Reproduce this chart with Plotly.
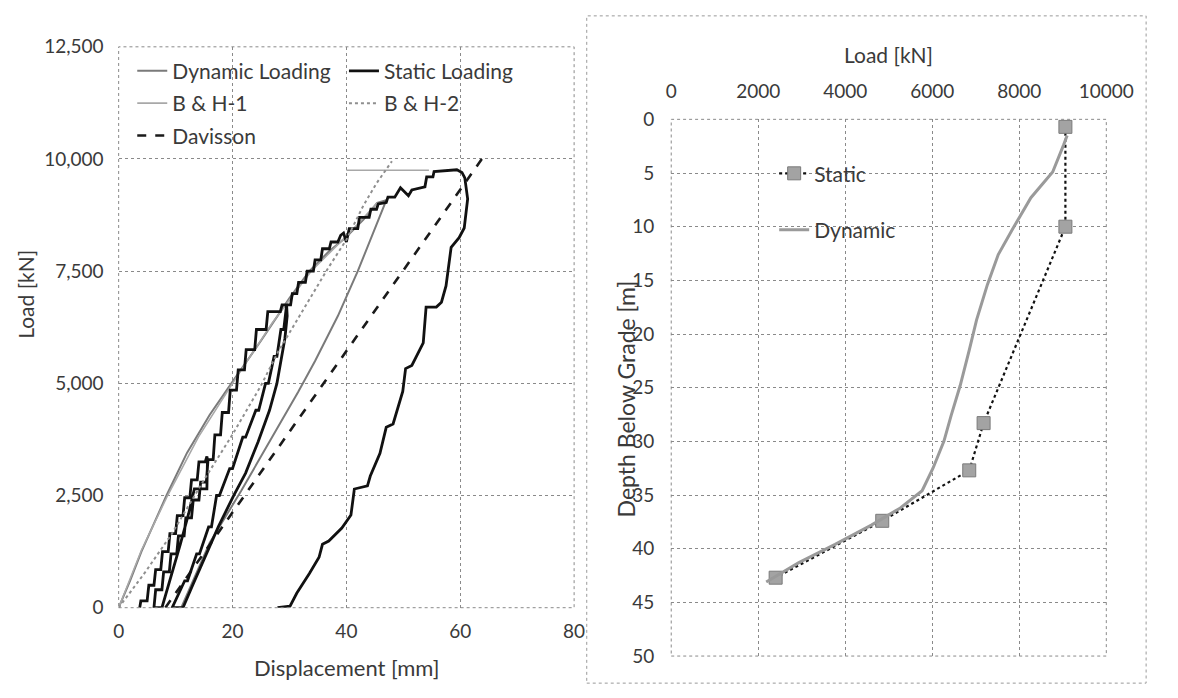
import plotly.graph_objects as go

# ---------------- Left chart: load-displacement ----------------
dyn_x = [0, 2, 4, 6.3, 8.4, 12, 16, 19.8, 25, 30, 33.5, 37, 39.7, 43, 45.4, 47,
         44.5, 42, 38.5, 34.5, 31.5, 27, 21.5, 16, 11]
dyn_y = [0, 600, 1250, 1920, 2500, 3450, 4300, 5000, 5950, 6900, 7500, 7950, 8230, 8650, 9020, 9080,
         8300, 7500, 6500, 5500, 4800, 3800, 2600, 1450, 0]

static_x = [3.7, 3.9, 5, 5.3, 6.2, 6.5, 7.4, 7.7, 8.7, 9, 10, 10.3, 11.3, 11.6, 12.5, 12.8, 13.8, 14.1, 15.2, 15.5,
            15.6, 15.5, 13.3, 12.3, 10.8, 9.2, 7.6, 6.2,
            6.5, 7.6, 7.9, 8.9, 9.2, 10.2, 10.5, 11.5, 11.8, 12.8, 13.1, 14.1, 14.4, 15.4, 15.7, 16.6, 16.9, 17.9,
            18.2, 19.3, 19.6, 20.7, 21, 22.1, 22.4, 23.9, 24.2, 25.9, 26.2, 28.4, 28.7, 29.5,
            29.6, 29.2, 28.4, 27.8, 26.5, 24.5, 22.3, 20.2, 17.5, 15, 13, 11.3, 9.4,
            11.6, 12.1, 13.7, 14.2, 15.8, 16.3, 17.2, 17.7, 19.5, 20, 21.8, 22.3, 24.1, 24.6, 25.8, 26.3, 27.3,
            27.8, 28.5, 29, 29.5,
            30.2, 30.5, 31.3, 31.6, 32.8, 33.1, 34.2, 34.5, 35.5, 35.8, 37, 37.3, 38.5, 39, 39.5, 40, 40.5, 42,
            42.3, 44, 44.3, 45.3, 45.6, 47, 47.3, 48.5, 49.5, 50.9, 51.5, 53.8, 54.1, 55.2, 55.4, 59.4, 60.3,
            60.8,
            61.3, 60.7, 59.8, 58.4, 57.8, 57.5, 56.7, 55.8, 54, 53.5, 51.5, 50.4, 49.9, 48.2, 47, 45.9, 44.2,
            43.7, 41.4, 40.8, 39.2, 36.9, 35.8, 35.2, 33.5, 31.3, 30.1, 27.9]
static_y = [0, 150, 150, 500, 500, 850, 850, 1250, 1250, 1650, 1650, 2050, 2050, 2450, 2450, 2850, 2850, 3250, 3250, 3370,
            3300, 2650, 2650, 2100, 1400, 700, 0, 0,
            400, 400, 800, 800, 1200, 1200, 1600, 1600, 2000, 2000, 2400, 2400, 2800, 2800, 3300, 3300, 3850, 3850,
            4350, 4350, 4850, 4850, 5300, 5300, 5750, 5750, 6200, 6200, 6600, 6600, 6750, 6750,
            6500, 6000, 5400, 5000, 4400, 3700, 3000, 2500, 1800, 1100, 500, 0, 0,
            600, 600, 1200, 1200, 1800, 1800, 2500, 2500, 3100, 3100, 3800, 3800, 4400, 4400, 5000, 5000, 5600,
            5600, 6200, 6200, 6750,
            6750, 7000, 7000, 7250, 7250, 7500, 7500, 7750, 7750, 8000, 8000, 8150, 8150, 8300, 8350, 8150, 8450, 8450,
            8700, 8700, 8880, 8880, 9000, 9030, 9150, 9150, 9360, 9180, 9310, 9380, 9600, 9600, 9720, 9760, 9700,
            9580,
            9110, 8463, 8247, 8032, 7529, 7170, 6810, 6700, 6700, 5900, 5400, 5330, 4820, 4094, 4020, 3442, 2935,
            2717, 2645, 2065, 1775, 1486, 1413, 1123, 761, 326, 36, 0]

bh1_x = [0, 4, 8.6, 14, 20, 27, 33.8, 40, 45.5, None, 40, 54.5]
bh1_y = [0, 1280, 2500, 3800, 5000, 6350, 7500, 8280, 9030, None, 9750, 9750]

bh2_x = [0, 4.6, 9.3, 15, 20, 25, 28, 32.7, 36.7, 40, 43, 45.3, 48]
bh2_y = [0, 780, 1640, 2850, 3860, 4950, 5700, 6700, 7550, 8200, 8966, 9460, 9950]

dav_x = [8.2, 63.8]
dav_y = [0, 10000]

left_x_ticks = [0, 20, 40, 60, 80]
left_y_ticks = [0, 2500, 5000, 7500, 10000, 12500]

# ---------------- Right chart: load vs depth ----------------
st_load = [9060, 9060, 7180, 6850, 4850, 2400]
st_depth = [0.7, 10, 28.3, 32.7, 37.4, 42.7]

dy_load = [9100, 9017, 8767, 8267, 7850, 7517, 7267, 7017, 6850, 6642, 6433, 6267, 6017, 5767, 5267,
           4600, 3767, 2933, 2183]
dy_depth = [1.5, 2.4, 4.9, 7.3, 10.2, 12.6, 15.4, 18.7, 21.5, 24.8, 27.6, 30, 32.5, 34.6, 36.2,
            37.8, 39.6, 41.3, 43.1]

right_x_ticks = [0, 2000, 4000, 6000, 8000, 10000]
right_y_ticks = [0, 5, 10, 15, 20, 25, 30, 35, 40, 45, 50]

W, H = 1178, 698
FONT = "Lato"
TXT = "#3a3a3a"
GRID = "#8a8a8a"


def px_x(p):
    return p / W


def px_y(p):
    return 1 - p / H


fig = go.Figure()

# left traces
fig.add_trace(go.Scatter(x=dyn_x, y=dyn_y, mode="lines", name="Dynamic Loading",
                         line=dict(color="#7a7a7a", width=2), xaxis="x", yaxis="y",
                         legend="legend", legendgroup="a"))
fig.add_trace(go.Scatter(x=bh1_x, y=bh1_y, mode="lines", name="B & H-1",
                         line=dict(color="#a8a8a8", width=1.6), xaxis="x", yaxis="y",
                         legend="legend", legendgroup="b", connectgaps=False))
fig.add_trace(go.Scatter(x=dav_x, y=dav_y, mode="lines", name="Davisson",
                         line=dict(color="#1a1a1a", width=2.6, dash="dash"), xaxis="x", yaxis="y",
                         legend="legend", legendgroup="c"))
fig.add_trace(go.Scatter(x=static_x, y=static_y, mode="lines", name="Static Loading",
                         line=dict(color="#111111", width=2.8), xaxis="x", yaxis="y",
                         legend="legend2", legendgroup="d"))
fig.add_trace(go.Scatter(x=bh2_x, y=bh2_y, mode="lines", name="B & H-2",
                         line=dict(color="#8f8f8f", width=2, dash="dot"), xaxis="x", yaxis="y",
                         legend="legend2", legendgroup="e"))

# right traces
fig.add_trace(go.Scatter(x=st_load, y=st_depth, mode="lines+markers", name="Static",
                         line=dict(color="#111111", width=2.2, dash="dot"),
                         marker=dict(symbol="square", size=13, color="#a3a3a3",
                                     line=dict(color="#7a7a7a", width=1)),
                         xaxis="x2", yaxis="y2", legend="legend3", legendgroup="f"))
fig.add_trace(go.Scatter(x=dy_load, y=dy_depth, mode="lines", name="Dynamic",
                         line=dict(color="#9a9a9a", width=3), xaxis="x2", yaxis="y2",
                         legend="legend3", legendgroup="g"))

L_x0, L_x1, L_y0, L_y1 = 116, 585, 616, 36
R_x0, R_x1, R_y0, R_y1 = 685, 1133, 666, 111

axis_common = dict(showgrid=True, gridcolor=GRID, griddash="dot", gridwidth=1,
                   zeroline=False, showline=False, ticks="",
                   tickfont=dict(family=FONT, size=19, color=TXT))

leg_font = dict(family=FONT, size=21, color=TXT)

fig.update_layout(
    width=W, height=H, margin=dict(l=0, r=0, t=0, b=0),
    paper_bgcolor="white", plot_bgcolor="white",
    font=dict(family=FONT, color=TXT),
    xaxis=dict(domain=[px_x(L_x0), px_x(L_x1)], range=[0, 80], tickvals=left_x_ticks,
               anchor="y", ticklabelstandoff=10, **axis_common),
    yaxis=dict(domain=[px_y(L_y0), px_y(L_y1)], range=[0, 12500], tickvals=left_y_ticks,
               tickformat=",", anchor="x", ticklabelstandoff=14, **axis_common),
    xaxis2=dict(domain=[px_x(R_x0), px_x(R_x1)], range=[0, 10000], tickvals=right_x_ticks,
                tickformat="d", side="top", anchor="y2", ticklabelstandoff=17, **axis_common),
    yaxis2=dict(domain=[px_y(R_y0), px_y(R_y1)], range=[50, 0], tickvals=right_y_ticks,
                anchor="x2", ticklabelstandoff=16, **axis_common),
    legend=dict(x=px_x(130), y=px_y(40), xanchor="left", yanchor="top", bgcolor="rgba(0,0,0,0)",
                font=leg_font, tracegroupgap=2, itemwidth=30),
    legend2=dict(x=px_x(348), y=px_y(40), xanchor="left", yanchor="top", bgcolor="rgba(0,0,0,0)",
                 font=leg_font, tracegroupgap=2, itemwidth=30),
    legend3=dict(x=px_x(791), y=px_y(146), xanchor="left", yanchor="top", bgcolor="rgba(0,0,0,0)",
                 font=leg_font, tracegroupgap=26, itemwidth=30),
    showlegend=True,
)

# plot-area borders (dotted) and right chart frame
fig.add_shape(type="rect", xref="x domain", yref="y domain", x0=0, x1=1, y0=0, y1=1,
              line=dict(color=GRID, width=1, dash="dot"))
fig.add_shape(type="rect", xref="x2 domain", yref="y2 domain", x0=0, x1=1, y0=0, y1=1,
              line=dict(color=GRID, width=1, dash="dot"))
fig.add_shape(type="rect", xref="paper", yref="paper", x0=px_x(598), x1=px_x(1174),
              y0=px_y(694), y1=px_y(4), line=dict(color="#9a9a9a", width=1, dash="dot"))

# axis titles
title_common = dict(xref="paper", yref="paper", showarrow=False, xanchor="center", yanchor="middle")
fig.add_annotation(text="Load [kN]", x=px_x(20), y=px_y(292), textangle=-90,
                   font=dict(family=FONT, size=21, color=TXT), **title_common)
fig.add_annotation(text="Displacement [mm]", x=px_x((L_x0 + L_x1) / 2), y=px_y(678),
                   font=dict(family=FONT, size=22, color=TXT), **title_common)
fig.add_annotation(text="Load [kN]", x=px_x((R_x0 + R_x1) / 2), y=px_y(44),
                   font=dict(family=FONT, size=21, color=TXT), **title_common)
fig.add_annotation(text="Depth Below Grade [m]", x=px_x(638), y=px_y(400), textangle=-90,
                   font=dict(family=FONT, size=23, color=TXT), **title_common)

fig.write_html("out.html")
